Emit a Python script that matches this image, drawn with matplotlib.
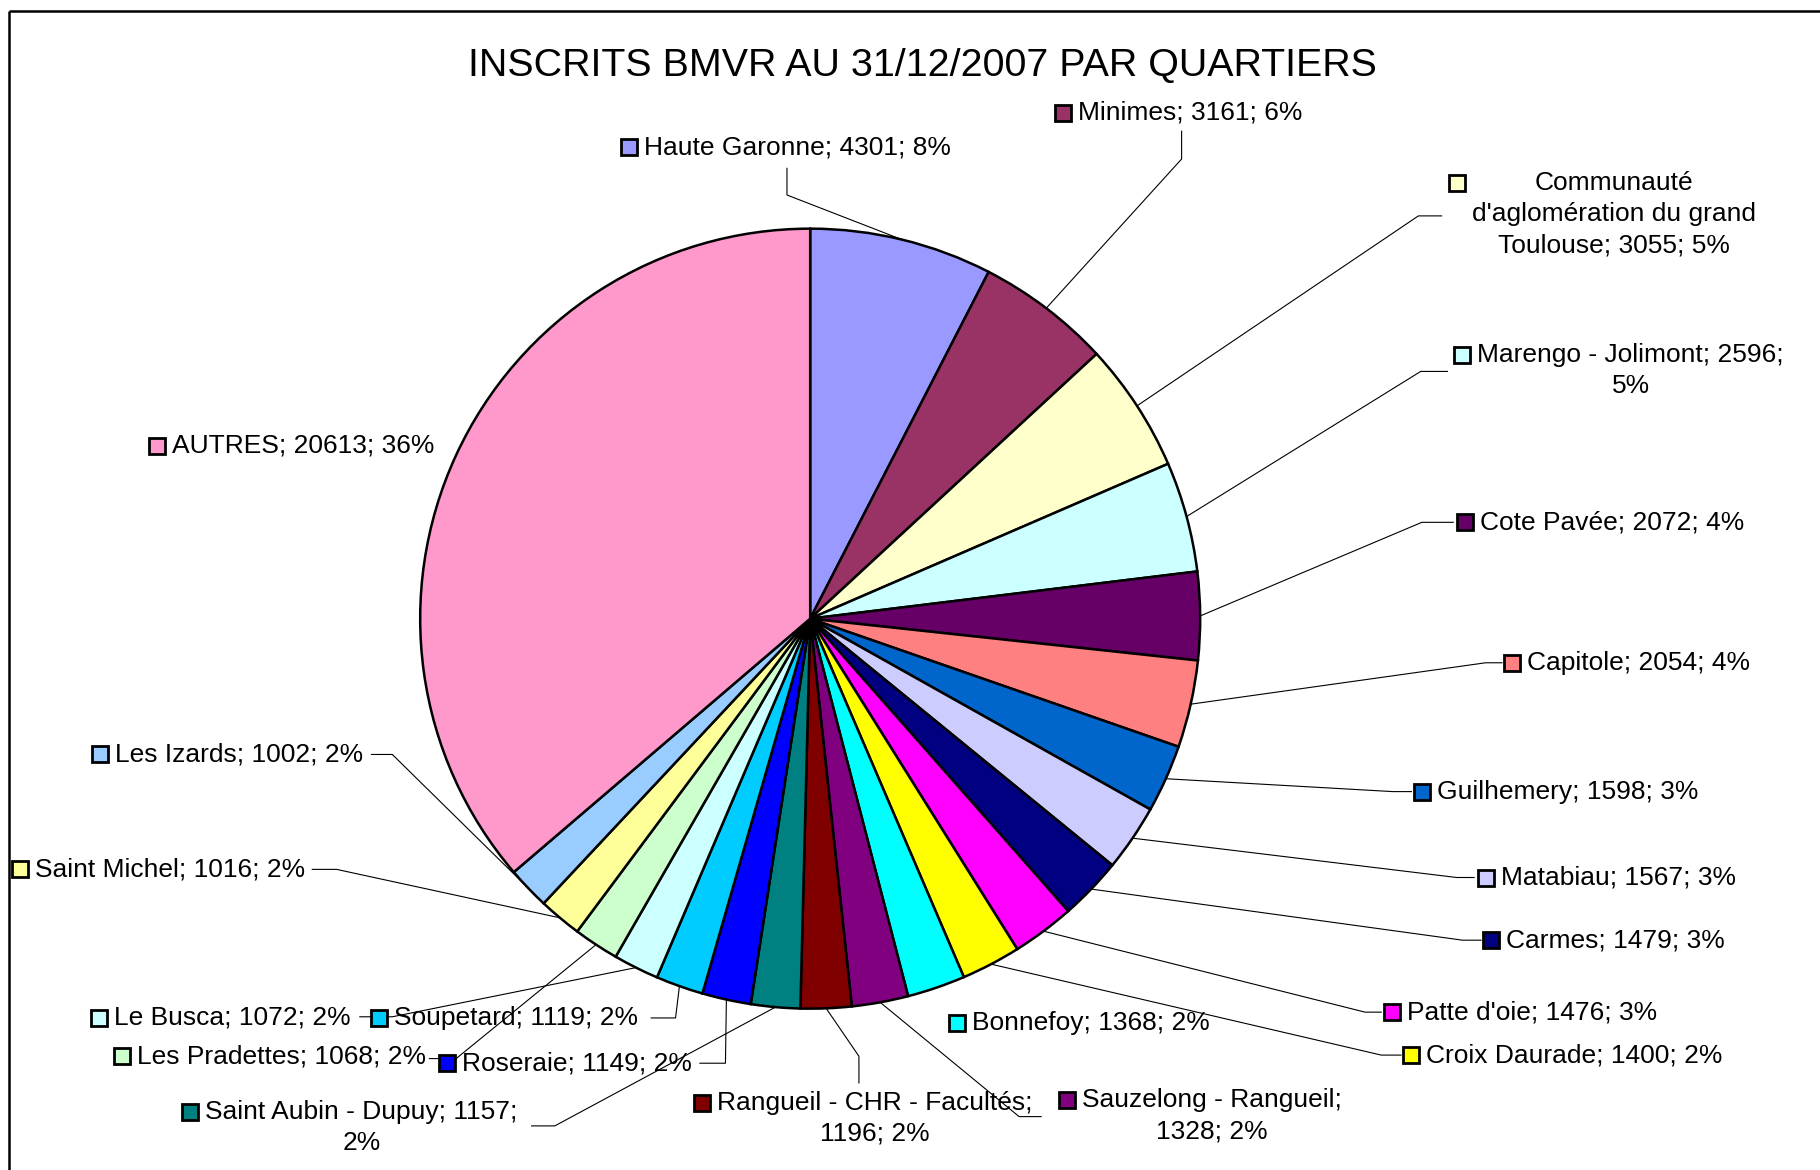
import matplotlib
matplotlib.use("Agg")
import matplotlib.pyplot as plt
from matplotlib.patches import Rectangle
import math

plt.rcParams['font.family'] = ['Liberation Sans', 'DejaVu Sans']

# ---------------- data ----------------
title = "INSCRITS BMVR AU 31/12/2007 PAR QUARTIERS"
categories = ["Haute Garonne", "Minimes", "Communauté d'aglomération du grand Toulouse",
              "Marengo - Jolimont", "Cote Pavée", "Capitole", "Guilhemery", "Matabiau",
              "Carmes", "Patte d'oie", "Croix Daurade", "Bonnefoy", "Sauzelong - Rangueil",
              "Rangueil - CHR - Facultés", "Saint Aubin - Dupuy", "Roseraie", "Soupetard",
              "Le Busca", "Les Pradettes", "Saint Michel", "Les Izards", "AUTRES"]
values = [4301, 3161, 3055, 2596, 2072, 2054, 1598, 1567, 1479, 1476, 1400, 1368, 1328,
          1196, 1157, 1149, 1119, 1072, 1068, 1016, 1002, 20613]
colors = ["#9999FF", "#993366", "#FFFFCC", "#CCFFFF", "#660066", "#FF8080", "#0066CC",
          "#CCCCFF", "#000080", "#FF00FF", "#FFFF00", "#00FFFF", "#800080", "#800000",
          "#008080", "#0000FF", "#00CCFF", "#CCFFFF", "#CCFFCC", "#FFFF99", "#99CCFF",
          "#FF99CC"]

# ---------------- layout (reference pixel coords, scaled) ----------------
S = 1820 / 1568.0
# square left x, first line centre y
label_pos = [(535, 127), (909, 97), (1248, 158), (1253, 306), (1255, 450), (1296, 571),
             (1218, 682), (1273, 756), (1278, 810), (1192, 872), (1209, 909), (818, 881),
             (912, 948), (598, 950), (157, 958), (378, 916), (320, 877), (78, 877),
             (98, 910), (10, 749), (79, 650), (128, 384)]
leader_pts = [[(678, 168), (678, 145)], [(1018, 137), (1018, 113)],
              [(1222, 186), (1242, 186)], [(1224, 320), (1247, 320)],
              [(1225, 450), (1252, 450)], [(1280, 571), (1294, 571)],
              [(1200, 682), (1216, 682)], [(1255, 756), (1270, 756)],
              [(1260, 810), (1276, 810)], [(1176, 872), (1190, 872)],
              [(1190, 909), (1207, 909)], [],
              [(878, 962), (897, 962)], [(740, 910), (740, 933)],
              [(478, 970), (458, 970)], [(625, 916), (603, 916)],
              [(582, 877), (561, 877)], [(338, 876), (310, 876)],
              [(393, 912), (370, 912)], [(290, 749), (269, 749)],
              [(338, 650), (320, 650)], []]
wraps = {2: ["Communauté", "grand"], 3: "last", 12: ["Rangueil;"], 13: ["Facultés;"],
         14: "last"}

W, H = 1820, 1170
cx, cy, R = 698 * S, 533 * S, 336 * S
FS = 19

fig = plt.figure(figsize=(W / 100, H / 100), dpi=100)
ax = fig.add_axes([0, 0, 1, 1])

ax.pie(values, colors=colors, startangle=-90, counterclock=True, center=(cx, cy),
       radius=R, wedgeprops=dict(edgecolor="black", linewidth=1.8))
ax.set_xlim(0, W)
ax.set_ylim(H, 0)
ax.set_aspect("equal")
ax.axis("off")

# frame (top and left edges visible)
ax.plot([9, W], [11, 11], color="black", lw=1.8, solid_capstyle="butt")
ax.plot([9, 9], [11, H], color="black", lw=1.8, solid_capstyle="butt")

ax.text(795 * S, 57 * S, title, fontsize=28.4, ha="center", va="center")

total = float(sum(values))


def wrap(text, spec):
    if spec is None:
        return text
    if spec == "last":
        i = text.rfind(" ")
        return text[:i] + "\n" + text[i + 1:]
    for tok in spec:
        text = text.replace(tok + " ", tok + "\n", 1)
    return text


cum = 0.0
for i, (name, v) in enumerate(zip(categories, values)):
    mid = -90 + 360 * (cum + v / 2) / total
    cum += v
    ex = cx + R * math.cos(math.radians(mid))
    ey = cy + R * math.sin(math.radians(mid))
    pts = leader_pts[i]
    if pts:
        xs = [ex] + [p[0] * S for p in pts]
        ys = [ey] + [p[1] * S for p in pts]
        ax.plot(xs, ys, color="black", lw=0.8)
    pct = round(v / total * 100)
    txt = wrap(f"{name}; {v}; {pct}%", wraps.get(i))
    sx, sy = label_pos[i]
    sx *= S
    sy *= S
    sq = 16
    ax.add_patch(Rectangle((sx, sy - sq / 2), sq, sq, facecolor=colors[i],
                           edgecolor="black", lw=2.0, zorder=5))
    ax.text(sx + 23, sy - 12, txt, fontsize=FS, ha="left", va="top",
            multialignment="center", linespacing=1.36, zorder=6)

fig.savefig("out.png", dpi=100)
